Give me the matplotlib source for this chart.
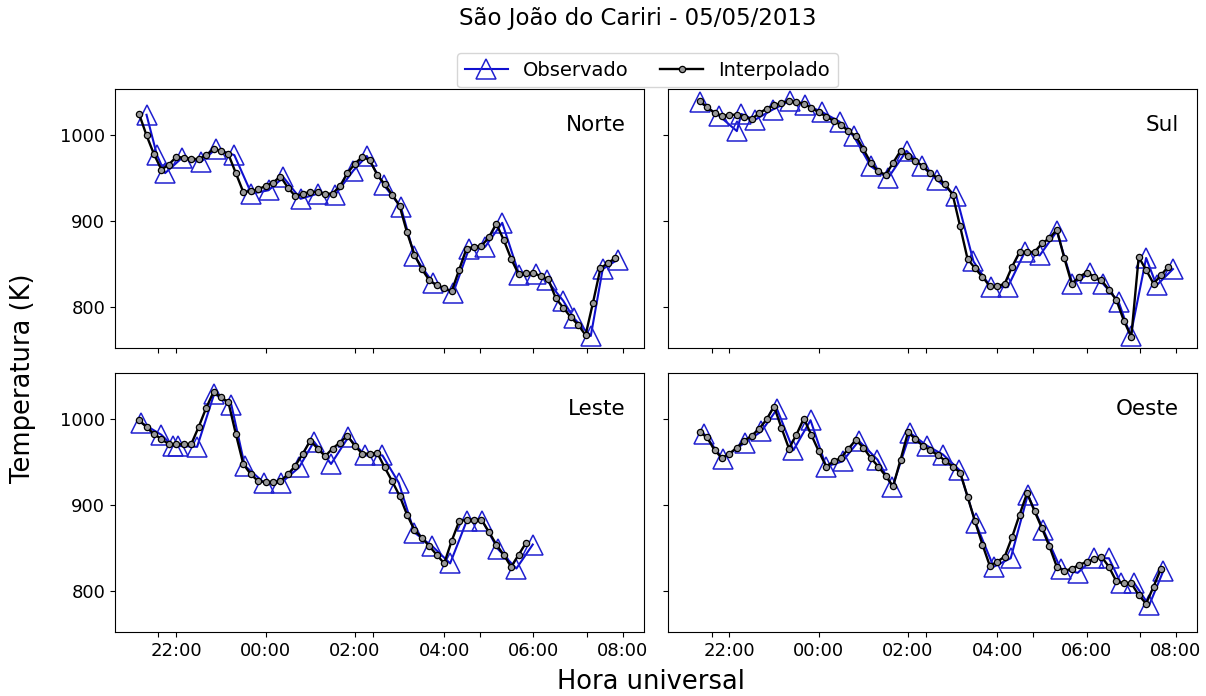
import numpy as np
import pandas as pd
import matplotlib
matplotlib.use("Agg")
import matplotlib.pyplot as plt
import matplotlib.dates as mdates
from matplotlib.ticker import FixedLocator

inicio = pd.Timestamp("2013-05-05 21:00")

# observado: minutos depois de 21:00 UT e temperatura (K)
norte_obs_min = [20, 34, 45, 68, 93, 113, 138, 161, 184, 204, 227, 250, 273, 298, 316, 339,
                 362, 380, 405, 432, 453, 475, 498, 521, 544, 558, 580, 594, 617, 633, 653]
norte_obs = [1024, 977, 956, 974, 969, 984, 977, 932, 936, 951, 926, 932, 930, 959, 976, 942,
             916, 859, 828, 816, 867, 870, 898, 837, 838, 831, 807, 787, 766, 844, 855]
sul_obs_min = [20, 46, 70, 76, 94, 118, 141, 162, 185, 208, 227, 250, 273, 298, 319, 339,
               365, 388, 411, 434, 457, 477, 500, 521, 544, 562, 583, 599, 620, 634, 656]
sul_obs = [1039, 1023, 1005, 1025, 1018, 1030, 1040, 1036, 1027, 1016, 999, 964, 950, 982, 964, 948,
           929, 853, 823, 823, 864, 860, 888, 827, 839, 827, 806, 766, 857, 825, 844]
leste_obs_min = [13, 40, 55, 62, 88, 111, 134, 152, 178, 201, 225, 245, 268, 291, 314, 337,
                 359, 380, 404, 428, 450, 471, 492, 517, 539]
leste_obs = [996, 982, 969, 969, 968, 1030, 1017, 946, 926, 926, 944, 974, 948, 979, 958, 958,
             926, 868, 852, 832, 881, 882, 849, 826, 854]
oeste_obs_min = [26, 51, 81, 103, 124, 146, 169, 190, 212, 234, 259, 279, 303, 326, 347, 369,
                 391, 415, 438, 461, 482, 505, 528, 550, 570, 586, 604, 624, 643]
oeste_obs = [983, 954, 973, 986, 1012, 964, 999, 945, 951, 975, 953, 921, 984, 969, 959, 941,
             879, 828, 838, 912, 871, 826, 821, 838, 838, 809, 809, 783, 823]

# interpolado: a cada 10 min, a partir do minuto indicado
norte_int_ini = 10
norte_int = [1025, 1000, 978, 960, 966, 975, 974, 973, 972, 977, 984, 982, 978, 956, 934, 935,
             937, 941, 945, 952, 939, 929, 932, 934, 934, 932, 932, 941, 956, 967, 975, 971,
             954, 943, 931, 918, 887, 861, 844, 831, 825, 822, 818, 843, 868, 870, 871, 881,
             897, 878, 856, 838, 839, 839, 836, 832, 810, 799, 788, 779, 767, 805, 845, 851, 857]
sul_int_ini = 20
sul_int = [1040, 1033, 1026, 1023, 1024, 1024, 1022, 1019, 1026, 1031, 1035, 1038, 1040, 1039,
           1037, 1032, 1027, 1022, 1017, 1012, 1005, 999, 984, 968, 958, 954, 968, 982, 976, 970,
           964, 956, 950, 943, 931, 894, 856, 845, 835, 824, 824, 827, 847, 864, 864, 864, 874,
           880, 890, 857, 827, 835, 840, 835, 831, 820, 808, 784, 765, 858, 843, 827, 837, 847]
leste_int_ini = 10
leste_int = [999, 991, 983, 977, 971, 971, 971, 971, 991, 1013, 1032, 1026, 1020, 983, 948, 936,
             928, 927, 927, 928, 936, 946, 960, 975, 966, 957, 966, 973, 981, 969, 960, 960, 961,
             944, 928, 911, 889, 871, 862, 852, 842, 832, 858, 881, 883, 883, 883, 869, 854, 842,
             828, 842, 856]
oeste_int_ini = 20
oeste_int = [985, 979, 964, 955, 960, 967, 975, 981, 989, 1000, 1015, 990, 966, 982, 1001, 982,
             963, 945, 951, 955, 966, 976, 967, 955, 945, 934, 922, 953, 985, 977, 969, 964, 958,
             952, 945, 938, 910, 881, 854, 829, 834, 840, 863, 889, 914, 893, 873, 852, 828, 823,
             826, 830, 834, 837, 840, 828, 811, 809, 809, 795, 785, 805, 826]

paineis = ["Norte", "Sul", "Leste", "Oeste"]
yticks = [800, 900, 1000]
minor_ticks = ["2013-05-05 21:36", "2013-05-06 02:24", "2013-05-06 04:48", "2013-05-06 07:12"]

dados = {
    "Norte": (norte_obs_min, norte_obs, norte_int_ini, norte_int),
    "Sul": (sul_obs_min, sul_obs, sul_int_ini, sul_int),
    "Leste": (leste_obs_min, leste_obs, leste_int_ini, leste_int),
    "Oeste": (oeste_obs_min, oeste_obs, oeste_int_ini, oeste_int),
}

fig, axes = plt.subplots(2, 2, sharex=True, sharey=True, figsize=(12.06, 6.96), dpi=100)
fig.subplots_adjust(left=0.0954, right=0.9925, top=0.872, bottom=0.092, wspace=0.046, hspace=0.097)

for ax, nome in zip(axes.flat, paineis):
    obs_min, obs, int_ini, interp = dados[nome]
    t_obs = inicio + pd.to_timedelta(obs_min, unit="min")
    t_int = pd.date_range(inicio + pd.Timedelta(minutes=int_ini), periods=len(interp), freq="10min")
    ax.plot(t_obs.to_numpy(), obs, color="#1010d0", lw=1.5, marker="^", ms=14,
            mfc="none", mec="#2020d0", mew=1.1, label="Observado")
    ax.plot(t_int.to_numpy(), interp, color="black", lw=1.7, marker="o", ms=4.5,
            mfc="0.6", mec="black", mew=0.9, label="Interpolado")
    ax.text(0.965, 0.86, nome, transform=ax.transAxes, ha="right", va="center", fontsize=15.5)
    ax.xaxis.set_major_locator(mdates.HourLocator(byhour=range(0, 24, 2)))
    ax.xaxis.set_major_formatter(mdates.DateFormatter("%H:%M"))
    ax.xaxis.set_minor_locator(FixedLocator(mdates.date2num(pd.to_datetime(minor_ticks))))
    ax.tick_params(which="both", length=3.5, width=0.8, labelsize=13)
    ax.set_yticks(yticks)

axes[0, 0].set_ylim(752, 1054)

handles, labels = axes[0, 0].get_legend_handles_labels()
fig.legend(handles, labels, loc="upper center", bbox_to_anchor=(0.537, 0.938), ncol=2,
           fontsize=14, handlelength=2.2, columnspacing=1.6)
fig.text(0.529, 1 - 19 / 696, "São João do Cariri - 05/05/2013", ha="center", va="center", fontsize=16.5)
fig.text(0.54, 1 - 682 / 696, "Hora universal", ha="center", va="center", fontsize=18.5)
fig.text(0.019, 1 - 378 / 696, "Temperatura (K)", ha="center", va="center", rotation=90, fontsize=18.5)

fig.savefig("out.png", dpi=100)
